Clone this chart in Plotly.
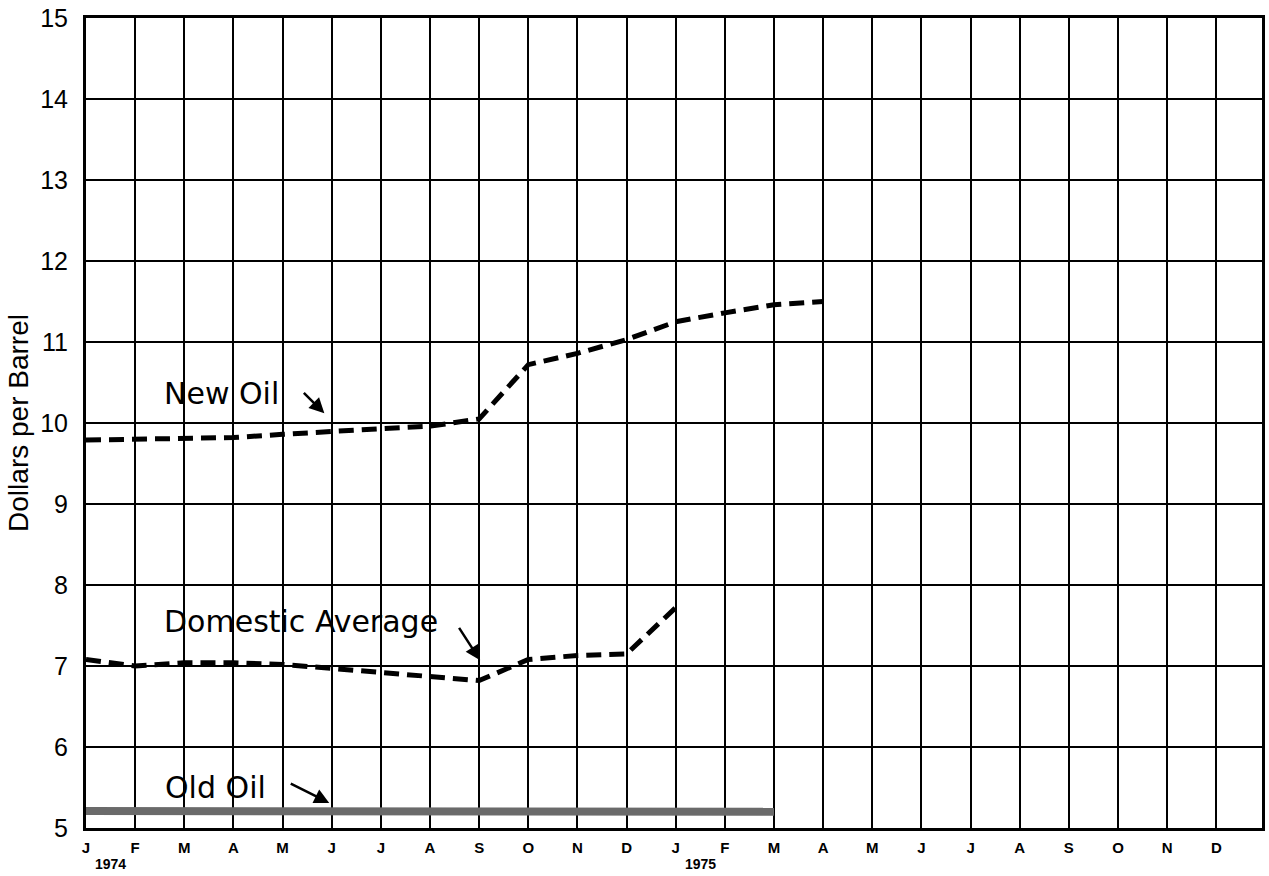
import plotly.graph_objects as go

# ---- data ----
months = list(range(24))  # Jan 1974 .. Dec 1975
month_labels = ["J", "F", "M", "A", "M", "J", "J", "A", "S", "O", "N", "D",
                "J", "F", "M", "A", "M", "J", "J", "A", "S", "O", "N", "D"]
year_labels = ["1974", "1975"]
year_months = [0, 12]

new_oil_months = list(range(16))
new_oil = [9.79, 9.80, 9.81, 9.82, 9.86, 9.90, 9.93, 9.96, 10.05,
           10.72, 10.86, 11.03, 11.25, 11.36, 11.46, 11.50]

domestic_months = list(range(13))
domestic_avg = [7.08, 7.00, 7.04, 7.04, 7.02, 6.97, 6.93, 6.87, 6.82,
                7.08, 7.13, 7.15, 7.72]

old_oil_months = list(range(15))
old_oil = [5.21, 5.21, 5.21, 5.21, 5.20, 5.20, 5.20, 5.20, 5.20,
           5.20, 5.20, 5.20, 5.19, 5.20, 5.20]

fig = go.Figure()

fig.add_trace(go.Scatter(x=old_oil_months, y=old_oil, mode="lines",
                         line=dict(color="#6a6a6a", width=8),
                         showlegend=False, hoverinfo="skip"))
fig.add_trace(go.Scatter(x=new_oil_months, y=new_oil, mode="lines",
                         line=dict(color="black", width=5, dash="15px,8px"),
                         showlegend=False))
fig.add_trace(go.Scatter(x=domestic_months, y=domestic_avg, mode="lines",
                         line=dict(color="black", width=5, dash="15px,8px"),
                         showlegend=False))

label_font = dict(family="DejaVu Sans", size=30, color="black")
annotations = [
    dict(x=2.76, y=10.36, text="New Oil", showarrow=False, font=label_font),
    dict(x=4.38, y=7.55, text="Domestic Average", showarrow=False, font=label_font),
    dict(x=2.64, y=5.50, text="Old Oil", showarrow=False, font=label_font),
    dict(x=4.85, y=10.12, text="", showarrow=True, ax=-22, ay=-22,
         arrowhead=2, arrowsize=1.2, arrowwidth=2.5, arrowcolor="black"),
    dict(x=8.02, y=7.07, text="", showarrow=True, ax=-22, ay=-34,
         arrowhead=2, arrowsize=1.2, arrowwidth=2.5, arrowcolor="black"),
    dict(x=4.95, y=5.31, text="", showarrow=True, ax=-40, ay=-20,
         arrowhead=2, arrowsize=1.2, arrowwidth=2.5, arrowcolor="black"),
]
for ym, yl in zip(year_months, year_labels):
    annotations.append(dict(x=ym + 0.5, y=0, xref="x", yref="paper", yanchor="top",
                            yshift=-26, text=yl, showarrow=False,
                            font=dict(family="Liberation Sans", size=14,
                                      color="black", weight="bold")))

fig.update_layout(
    width=1269, height=876,
    margin=dict(l=86, r=4, t=16, b=48),
    paper_bgcolor="white", plot_bgcolor="white",
    annotations=annotations,
)
fig.update_xaxes(range=[0, 23.93], tickmode="array", tickvals=months, ticktext=month_labels,
                 showgrid=True, gridcolor="black", gridwidth=2,
                 showline=True, linecolor="black", linewidth=3, mirror=True,
                 ticks="", zeroline=False, ticklabelstandoff=4,
                 tickfont=dict(family="Liberation Sans", size=15, color="black", weight="bold"))
fig.update_yaxes(range=[5, 15], dtick=1, tick0=5,
                 showgrid=True, gridcolor="black", gridwidth=2,
                 showline=True, linecolor="black", linewidth=3, mirror=True,
                 ticks="", zeroline=False, ticklabelstandoff=10,
                 tickfont=dict(family="Liberation Sans", size=25, color="black"),
                 title=dict(text="Dollars per Barrel", standoff=4,
                            font=dict(family="Liberation Sans", size=28, color="black")))

fig.write_html("out.html", config={"displayModeBar": False},
               post_script="document.body.style.margin='0';")
